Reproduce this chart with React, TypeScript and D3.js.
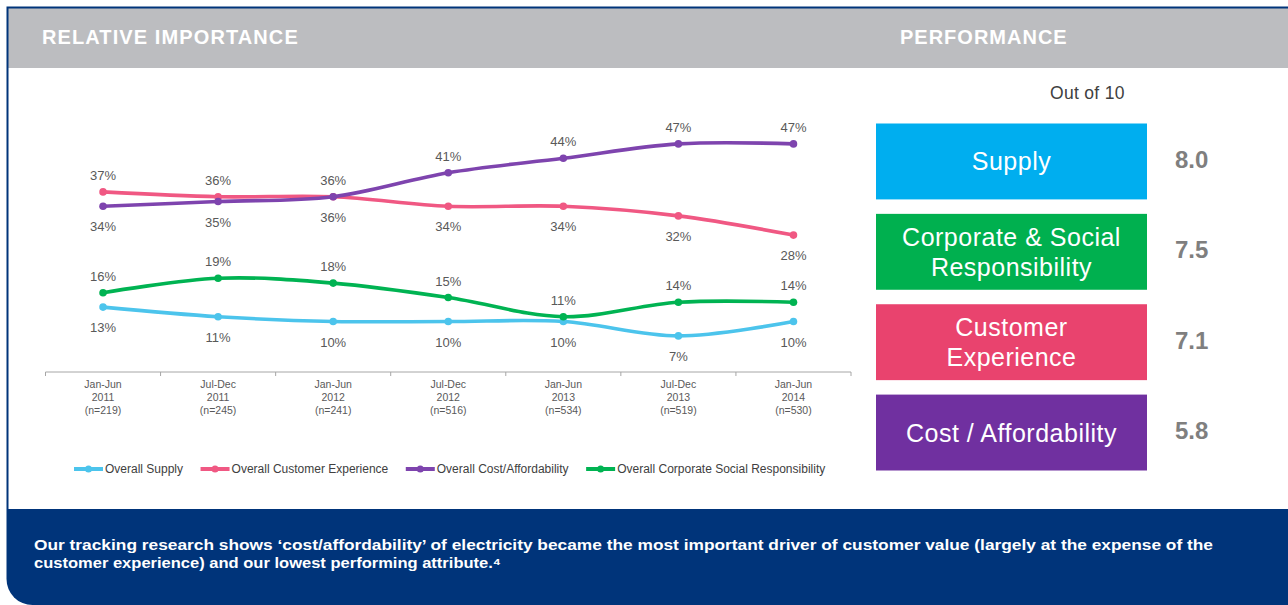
import React from "react";
import * as d3 from "d3";

// periodos do eixo x
const periods = ["Jan-Jun", "Jul-Dec", "Jan-Jun", "Jul-Dec", "Jan-Jun", "Jul-Dec", "Jan-Jun"];
const years = ["2011", "2011", "2012", "2012", "2013", "2013", "2014"];
const sampleSizes = [219, 245, 241, 516, 534, 519, 530];

// importancia relativa (%)
const supply = [13, 11, 10, 10, 10, 7, 10];
const customerExperience = [37, 36, 36, 34, 34, 32, 28];
const costAffordability = [34, 35, 36, 41, 44, 47, 47];
const corporateSocial = [16, 19, 18, 15, 11, 14, 14];

// performance (nota de 10)
const perfCategories = ["Supply", "Corporate & Social Responsibility", "Customer Experience", "Cost / Affordability"];
const perfLines = [["Supply"], ["Corporate & Social", "Responsibility"], ["Customer", "Experience"], ["Cost / Affordability"]];
const perfScores = [8.0, 7.5, 7.1, 5.8];

const headerTitles = ["RELATIVE IMPORTANCE", "PERFORMANCE"];
const footnote = [
    "Our tracking research shows \u2018cost/affordability\u2019 of electricity became the most important driver of customer value (largely at the expense of the",
    "customer experience) and our lowest performing attribute.\u2074",
];

const W = 1288;
const H = 605;
const FONT = "'Liberation Sans', Arial, Helvetica, sans-serif";
const NAVY = "#00347a";

type Serie = { nome: string, valores: number[], cor: string, par: number[], primeiro: boolean };

const series: Serie[] = [
    {nome: "Overall Supply", valores: supply, cor: "#4cc4ec", par: corporateSocial, primeiro: false},
    {nome: "Overall Customer Experience", valores: customerExperience, cor: "#f05883", par: costAffordability, primeiro: true},
    {nome: "Overall Cost/Affordability", valores: costAffordability, cor: "#7e44ae", par: customerExperience, primeiro: false},
    {nome: "Overall Corporate Social Responsibility", valores: corporateSocial, cor: "#00b352", par: supply, primeiro: true},
];
const perfColors = ["#00aeef", "#00b04f", "#e9436e", "#7030a0"];

export default class App extends React.Component<{}, {}> {
    private readonly ref = React.createRef<SVGSVGElement>();

    componentDidMount() {
        this.renderiza(d3.select(this.ref.current as SVGSVGElement));
    }

    renderiza(svg: d3.Selection<SVGSVGElement, unknown, null, undefined>) {
        svg.selectAll("*").remove();

        svg.append("rect").attr("width", W).attr("height", H).attr("fill", "#fff");

        // cabecalho cinza
        svg.append("rect")
            .attr("x", 8).attr("y", 8)
            .attr("width", W - 8).attr("height", 60)
            .attr("fill", "#bcbdc0");

        svg.selectAll(".titulo")
            .data(headerTitles)
            .join("text")
            .attr("class", "titulo")
            .attr("x", (_, i) => (i === 0 ? 42 : 900))
            .attr("y", 44)
            .attr("fill", "#fff")
            .style("font-size", "20px")
            .style("font-weight", "bold")
            .style("letter-spacing", (_, i) => (i === 0 ? "1.1px" : "1px"))
            .text(d => d);

        // painel azul de baixo
        const topo = 509;
        const r = 26;
        svg.append("path")
            .attr("d", `M6.5,${topo} H${W} V${H} H${6.5 + r} A${r},${r} 0 0 1 6.5,${H - r} Z`)
            .attr("fill", NAVY);

        svg.append("path")
            .attr("d", `M${W},7.5 H7.5 V${topo}`)
            .attr("fill", "none")
            .attr("stroke", NAVY)
            .attr("stroke-width", 2);

        svg.selectAll(".nota")
            .data(footnote)
            .join("text")
            .attr("class", "nota")
            .attr("x", 34)
            .attr("y", (_, i) => 550 + i * 18)
            .attr("fill", "#fff")
            .attr("textLength", (_, i) => (i === 0 ? 1179 : 467))
            .attr("lengthAdjust", "spacingAndGlyphs")
            .style("font-size", "15px")
            .style("font-weight", "bold")
            .text(d => d);

        this.grafico(svg.append("g"));
        this.performance(svg.append("g"));
    }

    grafico(g: d3.Selection<SVGGElement, unknown, null, undefined>) {
        const keys = periods.map((p, i) => `${p} ${years[i]}`);
        const x = d3.scaleBand().domain(keys).range([45.5, 851]);
        const y = d3.scaleLinear().domain([0, 50]).range([369.5, 129.5]);
        const cx = (i: number) => (x(keys[i]) ?? NaN) + x.bandwidth() / 2;

        // eixo x com ticks nas bordas das bandas
        const eixo = g.append("g").attr("transform", "translate(0, 372)");
        eixo.append("line")
            .attr("x1", x.range()[0]).attr("x2", x.range()[1])
            .attr("stroke", "#a6a6a6");
        eixo.selectAll(".tick")
            .data(keys.map(k => x(k) ?? NaN).concat([x.range()[1]]))
            .join("line")
            .attr("class", "tick")
            .attr("x1", d => d).attr("x2", d => d)
            .attr("y1", 0).attr("y2", 4)
            .attr("stroke", "#a6a6a6");

        const rotulos = eixo.selectAll(".rotulo")
            .data(keys)
            .join("text")
            .attr("class", "rotulo")
            .attr("text-anchor", "middle")
            .attr("fill", "#595959")
            .style("font-size", "10.5px");
        rotulos.each(function (_, i) {
            const t = d3.select(this);
            [periods[i], years[i], `(n=${sampleSizes[i]})`].forEach((linha, j) => {
                t.append("tspan")
                    .attr("x", cx(i))
                    .attr("y", 16 + j * 12.8)
                    .text(linha);
            });
        });

        const linha = d3.line<number>()
            .x((_, i) => cx(i))
            .y(d => y(d))
            .curve(d3.curveCardinal.tension(0));

        const grupos = g.selectAll(".serie")
            .data(series)
            .join("g")
            .attr("class", "serie");

        grupos.append("path")
            .attr("d", d => linha(d.valores))
            .attr("fill", "none")
            .attr("stroke", d => d.cor)
            .attr("stroke-width", 3.6)
            .attr("stroke-linecap", "round");

        grupos.each(function (s) {
            const sel = d3.select(this);
            sel.selectAll("circle")
                .data(s.valores)
                .join("circle")
                .attr("cx", (_, i) => cx(i))
                .attr("cy", d => y(d))
                .attr("r", 3.8)
                .attr("fill", s.cor);
        });

        // rotulos de dados
        grupos.each(function (s) {
            d3.select(this).selectAll(".valor")
                .data(s.valores)
                .join("text")
                .attr("class", "valor")
                .attr("x", (_, i) => cx(i))
                .attr("y", (d, i) => {
                    const acima = d > s.par[i] || (d === s.par[i] && s.primeiro);
                    return acima ? y(d) - 12 : y(d) + 25;
                })
                .attr("text-anchor", "middle")
                .attr("fill", "#595959")
                .style("font-size", "13px")
                .text(d => `${d}%`);
        });

        // legenda
        const legenda = g.append("g").attr("transform", "translate(0, 469)");
        let x0 = 74;
        series.forEach(s => {
            const item = legenda.append("g").attr("transform", `translate(${x0}, 0)`);
            item.append("line")
                .attr("x1", 0).attr("x2", 29)
                .attr("stroke", s.cor)
                .attr("stroke-width", 4);
            item.append("circle")
                .attr("cx", 14.5)
                .attr("r", 3.5)
                .attr("fill", s.cor);
            const t = item.append("text")
                .attr("x", 31)
                .attr("dy", "0.35em")
                .attr("fill", "#404040")
                .style("font-size", "12px")
                .text(s.nome);
            const w = (t.node() as SVGTextElement).getComputedTextLength();
            x0 += 31 + w + 17.5;
        });
    }

    performance(g: d3.Selection<SVGGElement, unknown, null, undefined>) {
        const yb = d3.scaleBand()
            .domain(perfCategories)
            .range([123.5, 470.5])
            .paddingInner(0.16);
        const x0 = 876;
        const largura = 271;

        g.append("text")
            .attr("x", 1050)
            .attr("y", 93)
            .attr("dominant-baseline", "central")
            .attr("fill", "#404040")
            .style("font-size", "17.5px")
            .style("letter-spacing", "0.3px")
            .text("Out of 10");

        const caixas = g.selectAll(".caixa")
            .data(perfCategories)
            .join("g")
            .attr("class", "caixa");

        caixas.append("rect")
            .attr("x", x0)
            .attr("y", d => yb(d) ?? NaN)
            .attr("width", largura)
            .attr("height", yb.bandwidth())
            .attr("fill", (_, i) => perfColors[i]);

        caixas.each(function (d, i) {
            const centro = (yb(d) ?? NaN) + yb.bandwidth() / 2;
            const linhas = perfLines[i];
            d3.select(this).selectAll(".rot")
                .data(linhas)
                .join("text")
                .attr("class", "rot")
                .attr("x", x0 + largura / 2)
                .attr("y", (_, j) => centro + (j - (linhas.length - 1) / 2) * 30)
                .attr("dominant-baseline", "central")
                .attr("text-anchor", "middle")
                .attr("fill", "#fff")
                .style("font-size", "25px")
                .style("letter-spacing", "0.5px")
                .text(l => l);
        });

        caixas.append("text")
            .attr("x", 1175)
            .attr("y", d => (yb(d) ?? NaN) + yb.bandwidth() / 2 - 2)
            .attr("dominant-baseline", "central")
            .attr("fill", "#7f7f7f")
            .style("font-size", "24px")
            .style("font-weight", "bold")
            .text((_, i) => perfScores[i].toFixed(1));
    }

    render() {
        return <div style={{position: "absolute", left: 0, top: 0, width: W, height: H, overflow: "hidden"}}>
            <svg ref={this.ref} width={W} height={H} style={{display: "block", fontFamily: FONT}}/>
        </div>;
    }
}
